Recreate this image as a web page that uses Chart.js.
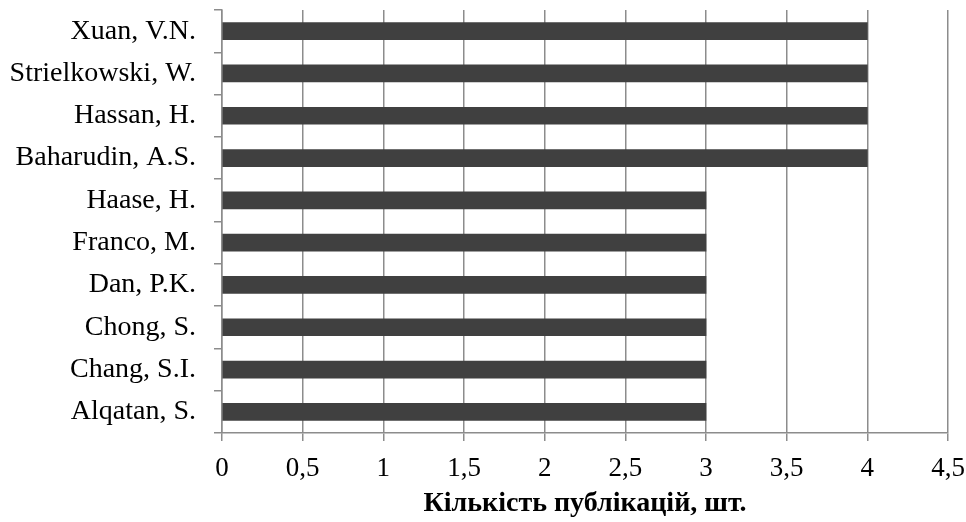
<!DOCTYPE html>
<html>
<head>
<meta charset="utf-8">
<script src="https://cdn.jsdelivr.net/npm/chart.js@4/dist/chart.umd.min.js"></script>
<style>
  html, body { margin: 0; padding: 0; background: #fff; }
  #wrap { width: 966px; height: 522px; }
</style>
</head>
<body>
<div id="wrap"><canvas id="authorsChart"></canvas></div>
<script>
const authors = [
  "Xuan, V.N.",
  "Strielkowski, W.",
  "Hassan, H.",
  "Baharudin, A.S.",
  "Haase, H.",
  "Franco, M.",
  "Dan, P.K.",
  "Chong, S.",
  "Chang, S.I.",
  "Alqatan, S.",
]
const publications = [4, 4, 4, 4, 3, 3, 3, 3, 3, 3]
const xTicks = [0, 0.5, 1, 1.5, 2, 2.5, 3, 3.5, 4, 4.5]

const gridColor = "#8c8c8c"
const serif = "'Liberation Serif', 'Times New Roman', serif"

const config = {
  type: "bar",
  data: {
    labels: authors,
    datasets: [
      {
        label: "Кількість публікацій",
        data: publications,
        backgroundColor: "#404040",
        borderWidth: 0,
        barThickness: 17,
      },
    ],
  },
  options: {
    indexAxis: "y",
    responsive: false,
    animation: false,
    devicePixelRatio: 1,
    layout: { padding: { top: 10, right: 18, bottom: 0, left: 0 } },
    plugins: {
      legend: { display: false },
      tooltip: { enabled: false },
    },
    scales: {
      x: {
        min: 0,
        max: 4.5,
        afterBuildTicks: (s) => {
          s.ticks = xTicks.map((v) => ({ value: v }))
        },
        afterFit: (s) => {
          s.height = 89
          s.paddingLeft = 0
          s.paddingRight = 0
        },
        grid: {
          color: gridColor,
          lineWidth: 1.5,
          tickLength: 8,
        },
        border: { color: gridColor, width: 1.5 },
        ticks: {
          color: "#000",
          font: { family: serif, size: 27 },
          padding: 12,
          maxRotation: 0,
          callback: (v) => String(v).replace(".", ","),
        },
        title: {
          display: true,
          text: "Кількість публікацій, шт.",
          color: "#000",
          font: { family: serif, size: 28, weight: "bold" },
          padding: { top: 2, bottom: 1 },
        },
      },
      y: {
        afterFit: (s) => {
          s.width = 222
          s.paddingTop = 0
          s.paddingBottom = 0
        },
        grid: {
          color: gridColor,
          lineWidth: 1.5,
          offset: true,
          drawOnChartArea: false,
          tickLength: 8,
        },
        border: { color: gridColor, width: 1.5 },
        ticks: {
          color: "#000",
          font: { family: serif, size: 28 },
          padding: 18,
        },
      },
    },
  },
}

const canvas = document.getElementById("authorsChart")
canvas.width = 966
canvas.height = 522
const authorsChart = new Chart(canvas, config)
</script>
</body>
</html>
